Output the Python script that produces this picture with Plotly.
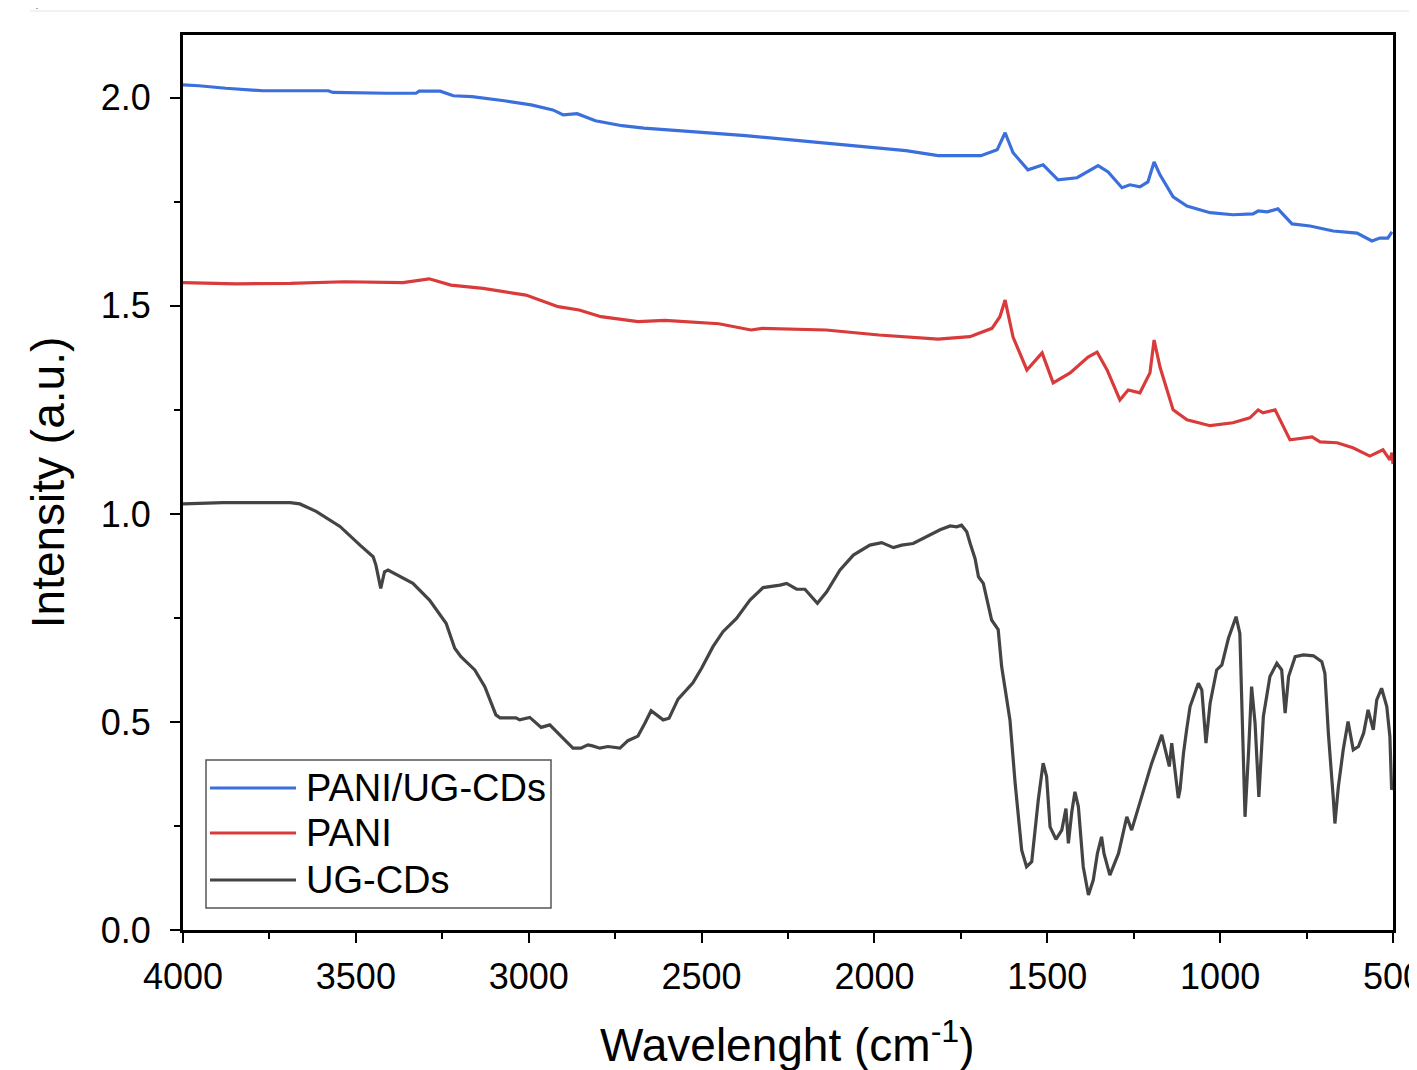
import plotly.graph_objects as go

# ---------------- data ----------------
wn_cds = [4000, 3884, 3690, 3662, 3615, 3546, 3488, 3450, 3442, 3428, 3417, 3407, 3335, 3287,
          3239, 3214, 3196, 3156, 3127, 3095, 3083, 3037, 3026, 2997, 2964, 2939, 2901, 2872,
          2849, 2829, 2818, 2794, 2771, 2736, 2713, 2684, 2664, 2646, 2611, 2594, 2568, 2525,
          2500, 2467, 2438, 2399, 2360, 2322, 2273, 2254, 2225, 2201, 2165, 2138, 2100, 2061,
          2013, 1979, 1945, 1921, 1888, 1859, 1810, 1781, 1762, 1748, 1733, 1723, 1709, 1699,
          1685, 1661, 1642, 1632, 1617, 1608, 1593, 1574, 1560, 1545, 1526, 1512, 1502, 1492,
          1475, 1458, 1446, 1439, 1429, 1420, 1410, 1396, 1381, 1367, 1355, 1343, 1336, 1319,
          1294, 1270, 1256, 1232, 1198, 1169, 1155, 1147, 1140, 1121, 1116, 1106, 1097, 1087,
          1063, 1053, 1041, 1029, 1010, 995, 976, 954, 943, 938, 928, 918, 909, 899, 888, 875,
          856, 836, 822, 812, 802, 783, 759, 730, 706, 697, 687, 673, 668, 658, 644, 630, 615,
          600, 585, 572, 557, 547, 533, 518, 509, 504, 500]
val_cds = [1.024, 1.027, 1.027, 1.024, 1.006, 0.970, 0.925, 0.897, 0.877, 0.821, 0.861, 0.865,
           0.833, 0.793, 0.737, 0.677, 0.657, 0.625, 0.585, 0.517, 0.510, 0.510, 0.505, 0.511,
           0.487, 0.493, 0.461, 0.437, 0.437, 0.445, 0.443, 0.437, 0.441, 0.437, 0.455, 0.466,
           0.497, 0.527, 0.505, 0.509, 0.555, 0.594, 0.629, 0.681, 0.717, 0.749, 0.793, 0.823,
           0.829, 0.833, 0.819, 0.819, 0.785, 0.813, 0.865, 0.901, 0.925, 0.931, 0.919, 0.925,
           0.929, 0.941, 0.962, 0.971, 0.969, 0.973, 0.957, 0.929, 0.893, 0.849, 0.833, 0.745,
           0.722, 0.633, 0.545, 0.505, 0.353, 0.192, 0.152, 0.164, 0.313, 0.401, 0.369, 0.248,
           0.218, 0.240, 0.292, 0.208, 0.284, 0.332, 0.296, 0.152, 0.084, 0.120, 0.184, 0.224,
           0.184, 0.132, 0.184, 0.272, 0.240, 0.308, 0.401, 0.469, 0.425, 0.393, 0.449, 0.317,
           0.337, 0.425, 0.481, 0.537, 0.593, 0.577, 0.449, 0.545, 0.625, 0.637, 0.701, 0.753,
           0.713, 0.561, 0.272, 0.425, 0.585, 0.497, 0.320, 0.513, 0.609, 0.641, 0.625, 0.521,
           0.609, 0.657, 0.661, 0.659, 0.645, 0.617, 0.473, 0.320, 0.256, 0.345, 0.433, 0.501,
           0.433, 0.441, 0.473, 0.529, 0.481, 0.553, 0.581, 0.537, 0.465, 0.337, 0.350]

wn_pani = [4000, 3845, 3690, 3534, 3364, 3288, 3225, 3132, 3008, 2915, 2854, 2791, 2684, 2606,
           2450, 2357, 2325, 2140, 1987, 1816, 1724, 1660, 1637, 1622, 1599, 1559, 1515, 1483,
           1434, 1382, 1356, 1327, 1290, 1266, 1232, 1203, 1191, 1174, 1136, 1096, 1029, 963,
           914, 890, 876, 841, 798, 734, 711, 662, 616, 567, 529, 509, 503, 500]
val_pani = [1.556, 1.553, 1.554, 1.558, 1.556, 1.565, 1.550, 1.542, 1.526, 1.498, 1.490, 1.474,
            1.462, 1.465, 1.457, 1.442, 1.446, 1.442, 1.430, 1.420, 1.426, 1.446, 1.474, 1.514,
            1.425, 1.346, 1.387, 1.315, 1.339, 1.377, 1.389, 1.346, 1.274, 1.298, 1.291, 1.339,
            1.418, 1.353, 1.250, 1.226, 1.212, 1.219, 1.231, 1.250, 1.243, 1.250, 1.178, 1.185,
            1.173, 1.171, 1.159, 1.139, 1.154, 1.130, 1.147, 1.120]

wn_comp = [4000, 3954, 3876, 3769, 3580, 3566, 3410, 3326, 3317, 3256, 3218, 3164, 3071, 2993,
           2930, 2900, 2860, 2807, 2730, 2667, 2528, 2373, 2218, 2062, 1909, 1816, 1692, 1645,
           1622, 1599, 1556, 1512, 1469, 1414, 1353, 1324, 1284, 1261, 1232, 1209, 1191, 1174,
           1136, 1096, 1029, 963, 905, 890, 864, 833, 792, 740, 673, 604, 561, 538, 515, 503]
val_comp = [2.031, 2.029, 2.023, 2.017, 2.017, 2.013, 2.011, 2.011, 2.016, 2.016, 2.005, 2.003,
            1.993, 1.983, 1.971, 1.959, 1.962, 1.945, 1.933, 1.927, 1.919, 1.909, 1.897, 1.885,
            1.873, 1.861, 1.861, 1.875, 1.916, 1.868, 1.827, 1.839, 1.803, 1.808, 1.837, 1.822,
            1.784, 1.791, 1.786, 1.798, 1.846, 1.815, 1.762, 1.740, 1.724, 1.719, 1.721, 1.728,
            1.726, 1.733, 1.697, 1.692, 1.680, 1.675, 1.656, 1.663, 1.663, 1.678]

series_names = ["PANI/UG-CDs", "PANI", "UG-CDs"]
series_colors = ["#3b6fdc", "#d93a3a", "#444444"]
x_ticks = [4000, 3500, 3000, 2500, 2000, 1500, 1000, 500]
y_ticks = [0.0, 0.5, 1.0, 1.5, 2.0]

# ---------------- figure ----------------
OFF = 8                      # page body offset of the figure
W, H = 1417 - OFF, 1070 - OFF
L, T = 183 - OFF, 35 - OFF
PW, PH = 1210, 895           # plot area size in pixels
R, B = W - L - PW, H - T - PH
FONT = "Liberation Sans, Arial, sans-serif"

fig = go.Figure()
for wn, val, name, col in [(wn_comp, val_comp, series_names[0], series_colors[0]),
                           (wn_pani, val_pani, series_names[1], series_colors[1]),
                           (wn_cds, val_cds, series_names[2], series_colors[2])]:
    fig.add_trace(go.Scatter(x=wn, y=val, mode="lines", name=name,
                             line=dict(color=col, width=3.2), showlegend=False))

axis_common = dict(showline=True, linecolor="black", linewidth=3, mirror=True,
                   showgrid=False, zeroline=False, ticks="outside", tickwidth=2,
                   ticklen=10, tickcolor="black", ticklabeloverflow="allow",
                   tickfont=dict(family=FONT, size=36, color="black"))

fig.update_xaxes(range=[4000, 500], tickvals=x_ticks,
                 ticktext=[str(v) for v in x_ticks],
                 minor=dict(ticks="outside", ticklen=6, tickwidth=2, tickcolor="black", dtick=250),
                 ticklabelstandoff=3, **axis_common)
fig.update_yaxes(range=[0, 2.151], tickvals=y_ticks,
                 ticktext=[f"{v:.1f}" for v in y_ticks],
                 minor=dict(ticks="outside", ticklen=6, tickwidth=2, tickcolor="black", dtick=0.25),
                 title=dict(text="Intensity (a.u.)",
                            font=dict(family=FONT, size=46, color="black"), standoff=22),
                 ticklabelstandoff=12, **axis_common)


def px2paper(px, py):
    """convert reference-screen pixel to paper coordinates"""
    return (px - OFF - L) / PW, (T + PH - (py - OFF)) / PH


shapes = []
annotations = []

# x-axis title (kept fully inside the page)
tx, ty = px2paper(787, 1042)
annotations.append(dict(text="Wavelenght (cm<sup>-1</sup>)", xref="paper", yref="paper",
                        x=tx, y=ty, xanchor="center", yanchor="middle", showarrow=False,
                        font=dict(family=FONT, size=46, color="black")))

# custom legend (long line samples as in the reference)
bx0, by0 = px2paper(206, 908)
bx1, by1 = px2paper(551, 760)
shapes.append(dict(type="rect", xref="paper", yref="paper", x0=bx0, y0=by0, x1=bx1, y1=by1,
                   line=dict(color="#555555", width=1.5), fillcolor="white", layer="above"))
for name, col, py in zip(series_names, series_colors, [788, 833, 880]):
    lx0, ly = px2paper(210, py)
    lx1, _ = px2paper(296, py)
    lt, _ = px2paper(304, py)
    shapes.append(dict(type="line", xref="paper", yref="paper", x0=lx0, x1=lx1, y0=ly, y1=ly,
                       line=dict(color=col, width=3), layer="above"))
    annotations.append(dict(text=name, xref="paper", yref="paper", x=lt, y=ly,
                            xanchor="left", yanchor="middle", showarrow=False,
                            font=dict(family=FONT, size=38, color="black")))

# faint screenshot edge lines
vx, vy0 = px2paper(37, 0)
_, vy1 = px2paper(37, 9)
shapes.append(dict(type="line", xref="paper", yref="paper", x0=vx, x1=vx, y0=vy0, y1=vy1,
                   line=dict(color="#aaaaaa", width=2)))
hx0, hy = px2paper(30, 11)
hx1, _ = px2paper(1417, 11)
shapes.append(dict(type="line", xref="paper", yref="paper", x0=hx0, x1=hx1, y0=hy, y1=hy,
                   line=dict(color="#eeeeee", width=1.5)))

fig.update_layout(width=W, height=H, margin=dict(l=L, r=R, t=T, b=B, autoexpand=False),
                  paper_bgcolor="white", plot_bgcolor="white",
                  font=dict(family=FONT, color="black"),
                  shapes=shapes, annotations=annotations, showlegend=False)

fig.write_html("out.html")
